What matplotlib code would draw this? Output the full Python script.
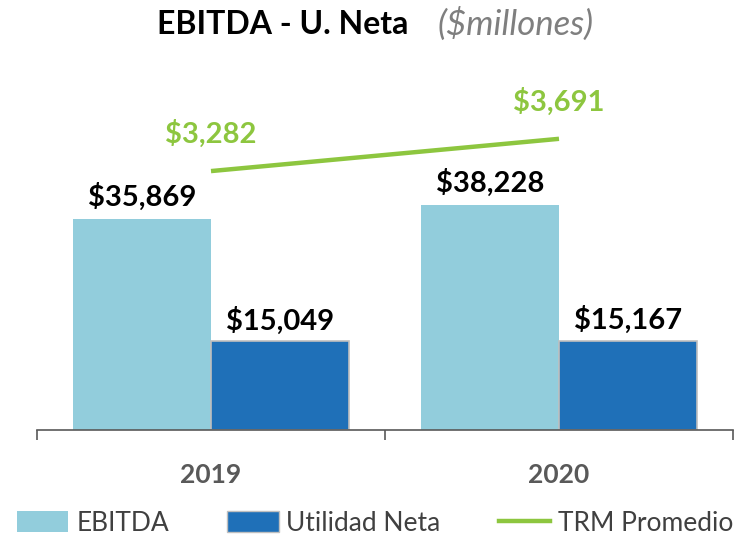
import matplotlib
matplotlib.use("Agg")
import matplotlib.pyplot as plt
from matplotlib.patches import Patch
from matplotlib.lines import Line2D

years = ["2019", "2020"]
ebitda = [35869, 38228]
utilidad = [15049, 15167]
trm = [3282, 3691]

C_EBITDA = "#92CDDC"
C_UTIL = "#1F70B8"
C_TRM = "#8DC63F"
C_TEXT = "#000000"
C_GRAY = "#595959"

plt.rcParams["font.family"] = ["Lato", "DejaVu Sans"]

fig = plt.figure(figsize=(7.4, 5.41), dpi=100)
ax = fig.add_axes([37 / 740, 111 / 541, 696 / 740, 370 / 541])
ax2 = ax.twinx()

x = list(range(len(years)))
w = 0.397
ax.bar([i - w / 2 for i in x], ebitda, width=w, color=C_EBITDA, edgecolor="none")
ax.bar([i + w / 2 for i in x], utilidad, width=w, color=C_UTIL,
       edgecolor="#BFBFBF", linewidth=1.2)

# labels a fixed number of points above the bar tops
for i in x:
    ax.annotate(f"${ebitda[i]:,}", (i - w / 2, ebitda[i]), xytext=(0, 16),
                textcoords="offset points", ha="center", va="center",
                fontsize=21, fontweight="bold", color=C_TEXT)
    ax.annotate(f"${utilidad[i]:,}", (i + w / 2, utilidad[i]), xytext=(0, 15),
                textcoords="offset points", ha="center", va="center",
                fontsize=21, fontweight="bold", color=C_TEXT)

ax2.plot(x, trm, color=C_TRM, linewidth=3.2, solid_capstyle="butt")
for i in x:
    ax2.annotate(f"${trm[i]:,}", (i, trm[i]), xytext=(0, 27),
                 textcoords="offset points", ha="center", va="center",
                 fontsize=21, fontweight="bold", color=C_TRM)

ax.set_xlim(-0.5, 1.5)
ax.set_ylim(0, 62893)
ax2.set_ylim(0, 4690)

for a in (ax, ax2):
    for s in ("top", "right", "left"):
        a.spines[s].set_visible(False)
    a.set_yticks([])
ax2.spines["bottom"].set_visible(False)
ax.spines["bottom"].set_color(C_GRAY)
ax.spines["bottom"].set_linewidth(1.2)

ax.set_xticks(x, years, fontsize=19, fontweight="bold", color=C_GRAY)
ax.tick_params(axis="x", which="major", length=0, pad=24)
ax.set_xticks([-0.5, 0.5, 1.5], minor=True)
ax.tick_params(axis="x", which="minor", length=7, width=1.2, color=C_GRAY, direction="out")

fig.text(157 / 740, 0.955, "EBITDA - U. Neta", ha="left", va="center",
         fontsize=23, fontweight="bold", color=C_TEXT)
fig.text(438 / 740, 0.955, "($millones)", ha="left", va="center",
         fontsize=25, style="italic", color="#7F7F7F")

handles = [Patch(facecolor=C_EBITDA, edgecolor="none"),
           Patch(facecolor=C_UTIL, edgecolor="#BFBFBF"),
           Line2D([], [], color=C_TRM, linewidth=3.2)]
fig.legend(handles, ["EBITDA", "Utilidad Neta", "TRM Promedio"], loc="center",
           bbox_to_anchor=(0.507, 0.033), ncol=3, frameon=False, fontsize=19,
           handlelength=1.95, handleheight=0.85, handletextpad=0.3, columnspacing=2.2,
           labelcolor="#404040")

fig.savefig("out.png", dpi=100)
